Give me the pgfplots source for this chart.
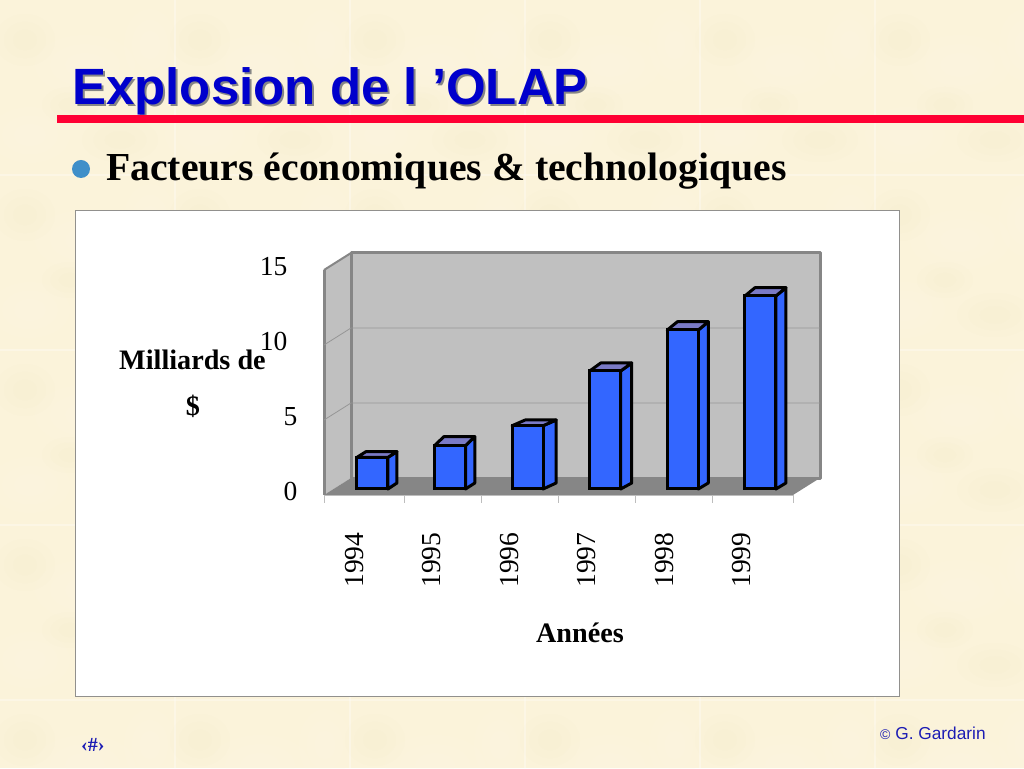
\documentclass[border=0pt]{standalone}
\usepackage{fontspec}
\setmainfont{Liberation Serif}
\newfontfamily\arialf{Liberation Sans}
\usepackage{pgfplots}
\usepackage{pgfplotstable}
\pgfplotsset{compat=1.18}

\definecolor{paper}{HTML}{FBF3DA}
\definecolor{paperlight}{HTML}{FFF9E6}
\definecolor{paperdark}{HTML}{F8ECCB}
\definecolor{titleblue}{HTML}{0000CC}
\definecolor{rulered}{HTML}{FF0033}
\definecolor{bulletblue}{HTML}{3F8FC9}
\definecolor{wallgray}{HTML}{C0C0C0}
\definecolor{edgegray}{HTML}{868686}
\definecolor{gridgray}{HTML}{969696}
\definecolor{tickgray}{HTML}{BDBDBD}
\definecolor{barblue}{HTML}{3366FF}
\definecolor{bartop}{HTML}{7A7AC6}
\definecolor{footblue}{HTML}{1C1CB4}

% y = value, dx and dy = depth of the bar's 3D faces in axis units
\pgfplotstableread{
x y dx dy
0 2.11 0.116 0.38
1 2.89 0.120 0.60
2 4.22 0.168 0.38
3 7.87 0.142 0.53
4 10.6 0.129 0.55
5 12.87 0.129 0.55
}\sales

\begin{document}
\begin{tikzpicture}[x=1pt,y=1pt]
\useasboundingbox (0,0) rectangle (1024,768);
\clip (0,0) rectangle (1024,768);
% parchment background, one tile repeated
\fill[paper] (0,0) rectangle (1024,768);
\foreach \tx in {0,...,5}{
  \foreach \ty in {0,...,4}{
    \begin{scope}[shift={(175*\tx,593-175*\ty)}]
      \foreach \bx/\by/\ra/\rb/\c in {30/40/40/28/paperlight,120/35/38/22/paperdark,85/110/50/30/paperlight,25/135/30/26/paperdark,150/130/26/36/paperlight,70/70/28/18/paperdark}{
        \fill[\c,opacity=.12] (\bx,\by) ellipse ({\ra} and {\rb});
        \fill[\c,opacity=.12] (\bx,\by) ellipse ({.7*\ra} and {.7*\rb});
        \fill[\c,opacity=.12] (\bx,\by) ellipse ({.4*\ra} and {.4*\rb});
      }
    \end{scope}
  }
}
\foreach \k in {175,350,525,700,875}{
  \fill[white,opacity=.3] (\k-.7,0) rectangle (\k+.7,768);
}
\foreach \k in {68,243,418,593}{
  \fill[white,opacity=.3] (0,\k-.7) rectangle (1024,\k+.7);
}
% slide header
\node[anchor=base west,inner sep=0,text=edgegray] at (74,661) {\arialf\bfseries\fontsize{51}{55}\selectfont Explosion de l ’OLAP};
\node[anchor=base west,inner sep=0,text=titleblue] at (72,663) {\arialf\bfseries\fontsize{51}{55}\selectfont Explosion de l ’OLAP};
\fill[rulered] (57,645) rectangle (1024,652.5);
\fill[bulletblue] (81,599) circle (9);
\node[anchor=base west,inner sep=0] at (106,587) {\bfseries\fontsize{39.7}{44}\selectfont Facteurs économiques \& technologiques};
% white panel
\filldraw[fill=white,draw=edgegray!90!paperdark,line width=.8pt] (75,72) rectangle (899,557.5);

\begin{axis}[
    at={(324pt,273pt)},
    anchor=south west,
    scale only axis,
    width=469pt,
    height=225pt,
    xmin=-0.387, xmax=5.657,
    ymin=0, ymax=15,
    clip=false,
    axis y line*=left,
    axis x line*=bottom,
    axis line style={-},
    x axis line style={draw=tickgray,line width=.8pt},
    y axis line style={draw=edgegray,line width=3pt},
    xtick={0,...,5},
    xticklabels={1994,1995,1996,1997,1998,1999},
    ytick={0,5,10,15},
    yticklabels={0,5,{10\rule{10pt}{0pt}},{15\rule{10pt}{0pt}}},
    major tick length=11pt,
    x tick style={draw=none},
    y tick style={draw=tickgray,line width=.8pt},
    ticklabel style={font=\fontsize{27.5}{30}\selectfont},
    /pgf/number format/assume math mode=true,
    xticklabel style={rotate=90,anchor=east,xshift=-34pt},
    yticklabel style={anchor=east,xshift=-23pt,yshift=3.5pt},
]
% walls and floor
\addplot[fill=wallgray,draw=edgegray,line width=3pt,line join=round] coordinates {(-0.039,1.133) (6.005,1.133) (6.005,16.133) (-0.039,16.133)} -- cycle;
\addplot[fill=wallgray,draw=none] coordinates {(-0.387,0) (-0.039,1.133) (-0.039,16.133) (-0.387,15)} -- cycle;
\addplot[draw=edgegray,line width=2pt] coordinates {(-0.387,15) (-0.039,16.133)};
\addplot[draw=edgegray,line width=3pt] coordinates {(-0.039,1.133) (-0.039,16.133)};
\addplot[draw=edgegray,line width=3pt] coordinates {(-0.387,0) (-0.387,15)};
\addplot[draw=gridgray,line width=.8pt] coordinates {(-0.387,5) (-0.039,6.133) (6.005,6.133)};
\addplot[draw=gridgray,line width=.8pt] coordinates {(-0.387,10) (-0.039,11.133) (6.005,11.133)};
\addplot[fill=edgegray,draw=none] coordinates {(-0.387,0) (-0.039,1.133) (6.005,1.133) (5.657,0)} -- cycle;
% x tick marks sit between the bars
\addplot[ycomb,draw=tickgray,line width=.8pt,no marks] coordinates {(-0.387,-0.55) (0.644,-0.55) (1.637,-0.55) (2.629,-0.55) (3.621,-0.55) (4.613,-0.55) (5.657,-0.55)};
% side and top of each bar
\pgfplotsinvokeforeach{0,...,5}{
  \pgfplotstablegetelem{#1}{y}\of\sales
  \pgfmathsetmacro\v{\pgfplotsretval}
  \pgfplotstablegetelem{#1}{dx}\of\sales
  \pgfmathsetmacro\dpx{\pgfplotsretval}
  \pgfplotstablegetelem{#1}{dy}\of\sales
  \pgfmathsetmacro\dpy{\pgfplotsretval}
  \pgfmathsetmacro\vb{\v+\dpy}
  \pgfmathsetmacro\xl{#1+0.0374}
  \pgfmathsetmacro\xr{#1+0.4368}
  \pgfmathsetmacro\xlb{\xl+\dpx}
  \pgfmathsetmacro\xrb{\xr+\dpx}
  \edef\temp{\noexpand\addplot[fill=barblue,draw=black,line width=3pt,line join=round,yshift=6pt] coordinates {(\xr,0) (\xrb,0.4) (\xrb,\vb) (\xr,\v)} -- cycle;
    \noexpand\addplot[fill=bartop,draw=black,line width=3pt,line join=round,yshift=6pt] coordinates {(\xl,\v) (\xlb,\vb) (\xrb,\vb) (\xr,\v)} -- cycle;}
  \temp
}
\addplot[ybar,bar width=31pt,bar shift=18.4pt,fill=barblue,draw=black,line width=3pt,yshift=6pt] table[x=x,y=y] {\sales};
\end{axis}

% chart captions
\node[anchor=base west,inner sep=0] at (119,398) {\bfseries\fontsize{28.2}{31}\selectfont Milliards de};
\node[anchor=base,inner sep=0] at (193,352) {\bfseries\fontsize{28.2}{31}\selectfont \$};
\node[anchor=base,inner sep=0] at (580,126) {\bfseries\fontsize{28.2}{31}\selectfont Années};
% footer
\node[anchor=base west,inner sep=0,text=footblue] at (880,29) {\arialf\fontsize{17.3}{19}\selectfont{\fontsize{14}{16}\selectfont ©} G. Gardarin};
\node[anchor=base west,inner sep=0,text=footblue] at (81,17) {\bfseries\fontsize{20}{22}\selectfont ‹\#›};
\end{tikzpicture}
\end{document}
